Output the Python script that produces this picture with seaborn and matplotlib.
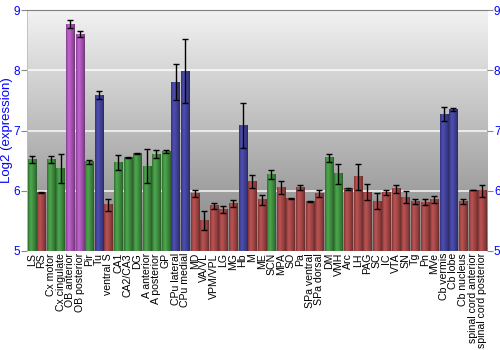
import numpy as np
import pandas as pd
import matplotlib
matplotlib.use("Agg")
import matplotlib.pyplot as plt
import matplotlib.colors as mcolors
import seaborn as sns

regions = ["LS", "RS", "Cx motor", "Cx cingulate", "OB anterior", "OB posterior", "Pir", "Tu",
           "ventral S", "CA1", "CA2/CA3", "DG", "A anterior", "A posterior", "GP",
           "CPu lateral", "CPu medial", "MD", "VA/VL", "VPM/VPL", "LG", "MG", "Hb", "M", "ME",
           "SCN", "MPA", "SO", "Pa", "SPa ventral", "SPa dorsal", "DM", "VMH", "Arc", "LH",
           "PAG", "SC", "IC", "VTA", "SN", "Tg", "Pn", "MVe", "Cb vermis", "Cb lobe",
           "Cb nucleus", "spinal cord anterior", "spinal cord posterior"]

expression = [6.52, 5.97, 6.52, 6.37, 8.77, 8.60, 6.48, 7.59,
              5.77, 6.47, 6.55, 6.62, 6.41, 6.61, 6.65,
              7.80, 7.99, 5.95, 5.51, 5.75, 5.69, 5.79, 7.08, 6.15, 5.85,
              6.27, 6.06, 5.87, 6.06, 5.82, 5.95, 6.55, 6.28, 6.03, 6.23,
              5.98, 5.83, 5.97, 6.03, 5.89, 5.82, 5.81, 5.85, 7.27, 7.35,
              5.82, 6.01, 6.00]

error = [0.055, 0.005, 0.06, 0.235, 0.06, 0.05, 0.03, 0.07,
         0.10, 0.12, 0.01, 0.005, 0.28, 0.07, 0.03,
         0.30, 0.53, 0.06, 0.155, 0.05, 0.06, 0.06, 0.37, 0.11, 0.085,
         0.075, 0.11, 0.005, 0.04, 0.01, 0.06, 0.065, 0.17, 0.01, 0.22,
         0.13, 0.13, 0.04, 0.06, 0.10, 0.04, 0.05, 0.06, 0.115, 0.02,
         0.04, 0.005, 0.10]

group = ["g", "r", "g", "g", "m", "m", "g", "b",
         "r", "g", "g", "g", "g", "g", "g",
         "b", "b", "r", "r", "r", "r", "r", "b", "r", "r",
         "g", "r", "r", "r", "r", "r", "g", "g", "r", "r",
         "r", "r", "r", "r", "r", "r", "r", "r", "b", "b",
         "r", "r", "r"]

palette = {"g": "#35a035", "r": "#b53838", "m": "#b846c8", "b": "#3535ad"}

plt.rcParams["font.family"] = ["Liberation Sans", "DejaVu Sans"]

df = pd.DataFrame({"region": regions, "expression": expression, "group": group})

fig = plt.figure(figsize=(5, 3.5), dpi=100)
ax = fig.add_axes([0.054, 0.283, 0.92, 0.688])

sns.barplot(data=df, x="region", y="expression", hue="group", palette=palette,
            dodge=False, errorbar=None, width=0.85, legend=False, ax=ax, zorder=3)

n = len(regions)
ax.set_ylim(5, 9)
ax.set_xlim(-0.5, n - 0.5)

# background vertical gradient
grad = np.linspace(0, 1, 256).reshape(-1, 1)
top_c = np.array(mcolors.to_rgb("#f2f2f2"))
bot_c = np.array(mcolors.to_rgb("#848484"))
bg = top_c[None, None, :] * (1 - grad[:, :, None]) + bot_c[None, None, :] * grad[:, :, None]
ax.imshow(bg, extent=[-0.5, n - 0.5, 5, 9], aspect="auto", zorder=0, origin="upper")

for yv in [6, 7, 8]:
    ax.axhline(yv, color="white", lw=1.2, alpha=0.85, zorder=1)

# cylindrical shading on bars
prof_x = np.array([0.0, 0.12, 0.32, 0.55, 0.85, 1.0])
prof_f = np.array([0.75, 0.95, 1.15, 1.0, 0.8, 0.62])
xs = np.linspace(0, 1, 32)
fac = np.interp(xs, prof_x, prof_f)
for p in list(ax.patches):
    fc = np.array(p.get_facecolor()[:3])
    img = np.clip(fc[None, :] * fac[:, None], 0, 1)
    img = img.reshape(1, -1, 3)
    x0 = p.get_x(); w = p.get_width(); h = p.get_height(); b = p.get_y()
    ax.imshow(img, extent=[x0, x0 + w, b, b + h], aspect="auto", zorder=3.5,
              interpolation="bilinear")
ax.set_xlim(-0.5, n - 0.5)
ax.set_ylim(5, 9)

ax.errorbar(np.arange(n), expression, yerr=error, fmt="none",
            ecolor="black", elinewidth=1, capsize=2, capthick=1, zorder=5)

ax.set_yticks([5, 6, 7, 8, 9])
ax.tick_params(axis="y", colors="#888888", labelcolor="blue", labelsize=8.5,
               left=True, right=True, labelleft=True, labelright=True, length=4, pad=1)
ax.tick_params(axis="x", rotation=90, labelsize=7.6, length=0, pad=1.5)
ax.set_xlabel("")
ax.set_ylabel("Log2 (expression)", color="blue", fontsize=9.5)
ax.yaxis.set_label_coords(-0.03, 0.5)
for s in ["right", "bottom"]:
    ax.spines[s].set_visible(False)
ax.spines["top"].set_color("#808080")
ax.spines["left"].set_color("#bbbbbb")
ax.spines["left"].set_linewidth(0.6)

fig.savefig("out.png", dpi=100)
